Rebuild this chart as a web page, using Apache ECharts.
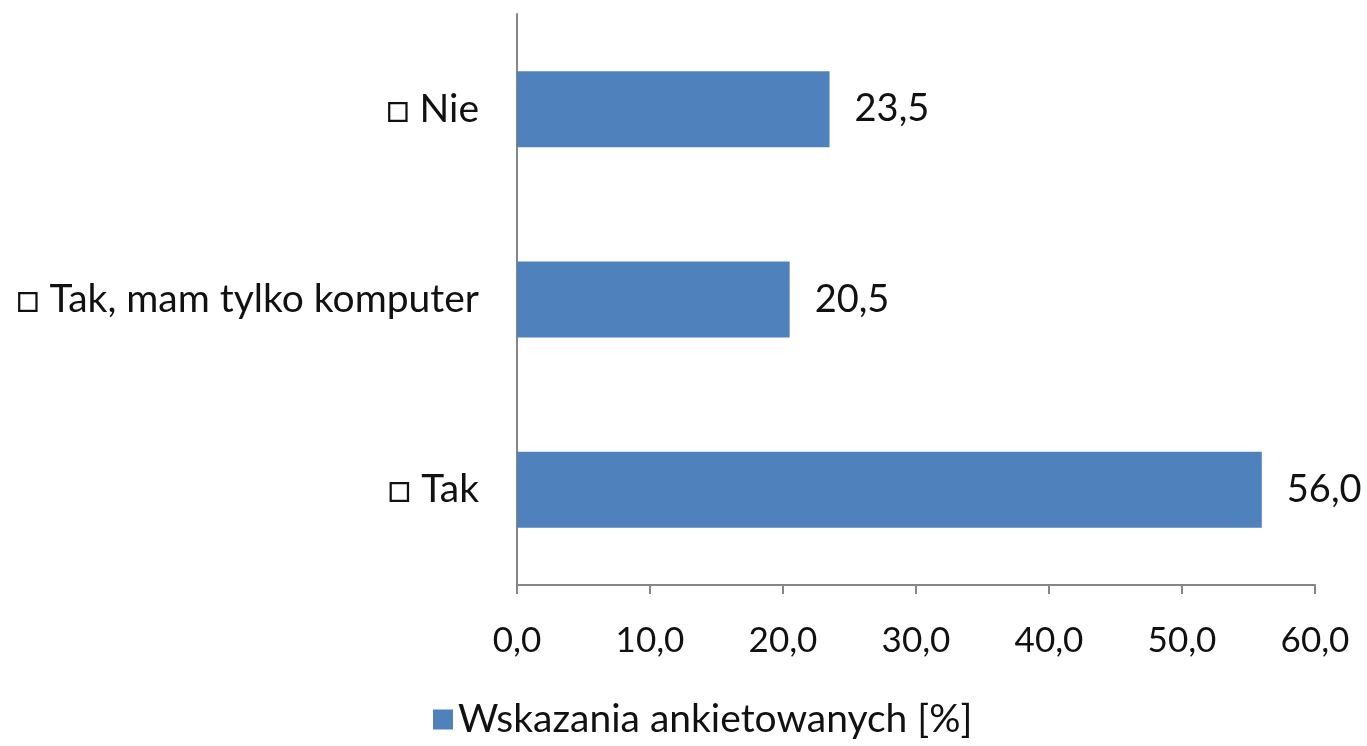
<!DOCTYPE html>
<html>
<head>
<meta charset="utf-8">
<script src="https://cdn.jsdelivr.net/npm/echarts@6/dist/echarts.min.js"></script>
<style>
    html, body {margin:0;padding:0;background:#fff;}
    #chart {width:1367px;height:746px;}
</style>
</head>
<body>
<div id="chart"></div>
<script>
    var categories = ['□ Tak', '□ Tak, mam tylko komputer', '□ Nie'];
    var values = [56.0, 20.5, 23.5];
    var seriesName = 'Wskazania ankietowanych [%]';
    var xTicks = [0, 10, 20, 30, 40, 50, 60];

    var font = 'Lato, "Open Sans", "DejaVu Sans", sans-serif';
    function pl(v) { return v.toFixed(1).replace('.', ','); }

    var chart = echarts.init(document.getElementById('chart'));
    var option = {
        animation: false,
        textStyle: {fontFamily: font},
        grid: {left: 517, right: 52, top: 14, bottom: 161},
        legend: {
            bottom: 2,
            left: 428,
            itemWidth: 20,
            itemHeight: 20,
            itemGap: 6,
            icon: 'rect',
            textStyle: {fontSize: 39, color: '#111', fontFamily: font},
            data: [seriesName]
        },
        xAxis: {
            type: 'value',
            min: xTicks[0],
            max: xTicks[xTicks.length - 1],
            interval: 10,
            splitLine: {show: false},
            axisLine: {show: true, lineStyle: {color: '#868686', width: 2}},
            axisTick: {show: true, length: 9, lineStyle: {color: '#868686', width: 2}},
            axisLabel: {fontSize: 35, color: '#111', margin: 38, formatter: function (v) { return pl(v); }}
        },
        yAxis: {
            type: 'category',
            data: categories,
            axisLine: {lineStyle: {color: '#868686', width: 2}},
            axisTick: {length: 12, lineStyle: {color: '#868686', width: 2}},
            axisLabel: {fontSize: 39, color: '#111', margin: 38}
        },
        series: [{
            name: seriesName,
            type: 'bar',
            data: values,
            barWidth: 76,
            itemStyle: {color: '#4f81bd'},
            label: {
                show: true,
                position: 'right',
                distance: 25,
                fontSize: 38,
                color: '#111',
                formatter: function (p) { return pl(p.value); }
            }
        }]
    };
    chart.setOption(option);
</script>
</body>
</html>
